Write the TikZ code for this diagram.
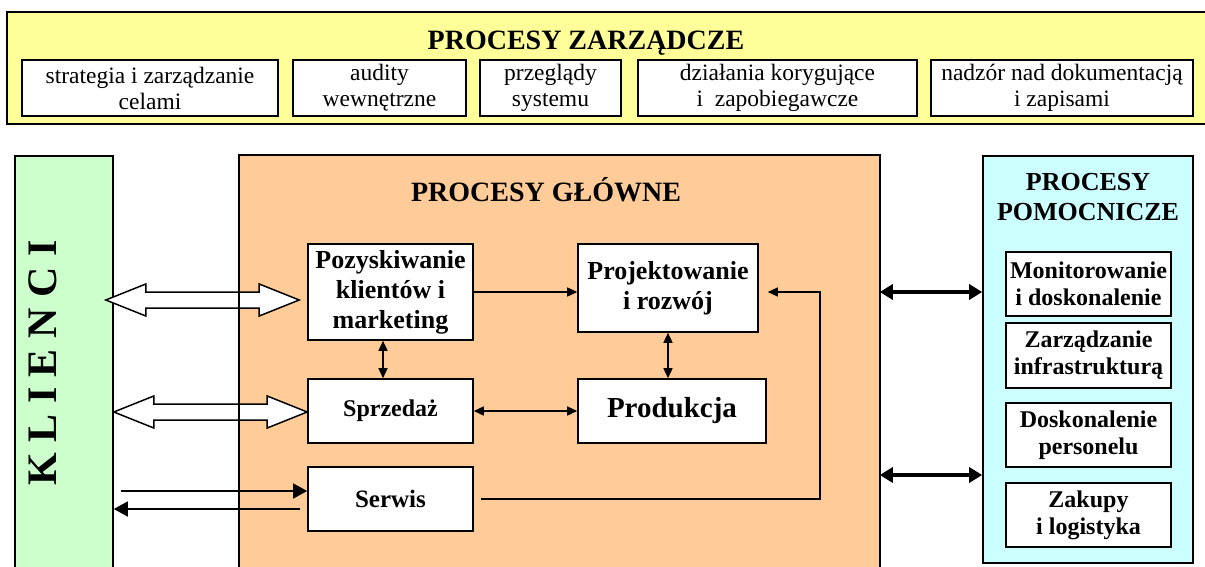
\documentclass[tikz,border=0pt]{standalone}
\usepackage{fontspec}
\setmainfont{Liberation Serif}
\usetikzlibrary{calc,arrows.meta}

\definecolor{mgmtfill}{HTML}{FFFF99}
\definecolor{clientfill}{HTML}{CCFFCC}
\definecolor{corefill}{HTML}{FFCC99}
\definecolor{supportfill}{HTML}{CCFFFF}

\newcommand\fsz[2]{\fontsize{#1}{#2}\selectfont}

\begin{document}
\begin{tikzpicture}[x=1pt,y=-1pt,
  panel/.style={draw, line width=1.6pt, inner sep=0pt},
  box/.style={draw, line width=1.6pt, fill=white, inner sep=0pt, align=center},
  subbox/.style={box, minimum height=56pt, font=\fsz{23.5}{26}},
  corebox/.style={box, minimum width=165pt, font=\bfseries\fsz{26}{30}},
  auxbox/.style={box, minimum width=165pt, minimum height=64pt, font=\bfseries\fsz{24}{27}},
  link/.style={line width=1.5pt, -{Triangle[length=10pt,width=9pt]}},
  dlink/.style={line width=1.5pt, {Triangle[length=10pt,width=9pt]}-{Triangle[length=10pt,width=9pt]}},
  biglink/.style={line width=1.5pt, -{Triangle[length=14pt,width=15pt]}},
  heavy/.style={line width=4pt, {Triangle[length=13pt,width=15pt]}-{Triangle[length=13pt,width=15pt]}},
  hollow/.style={draw, line width=1.5pt, fill=white, line join=miter,
    to path={let \p1=(\tikztostart), \p2=(\tikztotarget) in
      (\x1,\y1) -- (\x1+40pt,\y1+16pt) -- (\x1+40pt,\y1+8pt)
      -- (\x2-40pt,\y1+8pt) -- (\x2-40pt,\y1+16pt) -- (\x2,\y1)
      -- (\x2-40pt,\y1-16pt) -- (\x2-40pt,\y1-8pt)
      -- (\x1+40pt,\y1-8pt) -- (\x1+40pt,\y1-16pt) -- cycle}}
]
\useasboundingbox (0,0) rectangle (1205,566);
\clip (0,0) rectangle (1205,566);
\fill[white] (0,0) rectangle (1205,566);

% management processes
\node[panel, fill=mgmtfill, minimum width=1203pt, minimum height=112pt] (zarz) at (608.5,68) {};
\node[anchor=base, font=\bfseries\fsz{28}{32}] (zarzt) at (586,49) {PROCESY ZARZĄDCZE};
\node[subbox, minimum width=256pt] (m1) at (150,88) {strategia i zarządzanie\\celami};
\node[subbox, minimum width=173pt] (m2) at (379.5,88) {audity\\wewnętrzne};
\node[subbox, minimum width=141pt] (m3) at (550.5,88) {przeglądy\\systemu};
\node[subbox, minimum width=279pt] (m4) at (777.5,88) {działania korygujące\\i\ \ zapobiegawcze};
\node[subbox, minimum width=262pt] (m5) at (1062,88) {nadzór nad dokumentacją\\i zapisami};

% clients
\node[panel, fill=clientfill, minimum width=98pt, minimum height=424pt] (klienci) at (64,368) {};
\node[rotate=90, font=\bfseries\fsz{42}{46}] (klt) at (43,363) {K L I E N C I};

% core processes
\node[panel, fill=corefill, draw=none, minimum width=639pt, minimum height=424pt] (glowne) at (559.5,368) {};
\node[font=\bfseries\fsz{28}{32}] (glt) at (546,190) {PROCESY GŁÓWNE};

\node[corebox, minimum height=96pt] (poz) at (390.5,292) {Pozyskiwanie\\klientów i\\marketing};
\node[corebox, minimum width=180pt, minimum height=88pt] (proj) at (668,288) {Projektowanie\\i rozwój};
\node[corebox, minimum height=64pt, font=\bfseries\fsz{24}{28}] (sprz) at (390.5,411) {Sprzedaż};
\node[corebox, minimum width=188pt, minimum height=64pt, font=\bfseries\fsz{29}{33}] (prod) at (672,411) {Produkcja};
\node[corebox, minimum height=64pt, font=\bfseries\fsz{25}{29}] (serw) at (390.5,499) {Serwis};

% support processes
\node[panel, fill=supportfill, minimum width=210pt, minimum height=407pt] (pomoc) at (1088,359.5) {};
\node[align=center, font=\bfseries\fsz{26}{30}] (pomt) at (1088,197) {PROCESY\\POMOCNICZE};
\node[auxbox] (mon) at (1088.5,284) {Monitorowanie\\i doskonalenie};
\node[auxbox, minimum height=65pt] (infra) at (1088.5,355.5) {Zarządzanie\\infrastrukturą};
\node[auxbox] (dosk) at (1088.5,435) {Doskonalenie\\personelu};
\node[auxbox] (zak) at (1088.5,515) {Zakupy\\i logistyka};

% wide two-way arrows between clients and core processes
\coordinate (h1a) at ($(klienci.east |- poz.west)+(-8,8)$);
\coordinate (h1b) at ($(poz.west)+(-8,8)$);
\draw[hollow] (h1a) to (h1b);
\coordinate (h2a) at ($(klienci.east |- sprz.west)+(0,1)$);
\coordinate (h2b) at ($(sprz.west)+(0,1)$);
\draw[hollow] (h2a) to (h2b);

% service arrows
\coordinate (kin) at ($(klienci.east |- serw.west)+(7,-8)$);
\draw[biglink] (kin) -- ([yshift=8pt]serw.west);
\coordinate (kout) at ($(serw.west)+(-7,10)$);
\draw[biglink] (kout) -- (klienci.east |- kout);

% border of the core panel above the arrows
\draw[line width=1.6pt] (glowne.south west) -- (glowne.north west) -- (glowne.north east) -- (glowne.south east);

% links inside core processes
\draw[link] (poz.east) -- (poz.east -| proj.west);
\draw[dlink] ([xshift=-7.5pt]poz.south) -- ([xshift=-7.5pt]sprz.north);
\draw[dlink] (sprz.east) -- (sprz.east -| prod.west);
\draw[dlink] (proj.south) -- (proj.south |- prod.north);
\coordinate (loop) at ($(proj.east)+(61,4)$);
\draw[link] ([xshift=7pt]serw.east) -| (loop) -- ($(proj.east)+(9,4)$);

% links to support processes
\draw[heavy] (glowne.east |- poz.east) -- (pomoc.west |- poz.east);
\coordinate (dzmid) at ($(dosk.south)!0.5!(zak.north)$);
\draw[heavy] (glowne.east |- dzmid) -- (pomoc.west |- dzmid);
\end{tikzpicture}
\end{document}
